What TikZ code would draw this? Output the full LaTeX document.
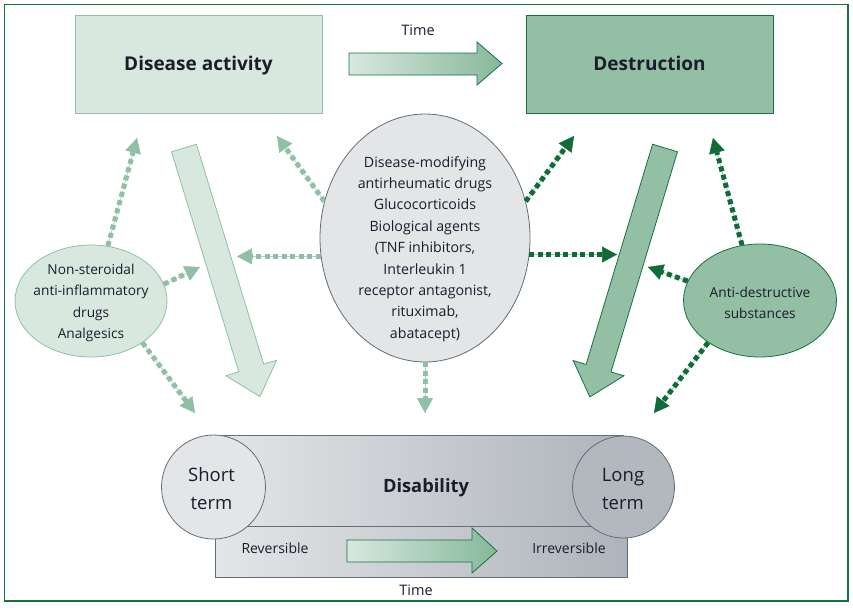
\documentclass[tikz,border=0pt]{standalone}
\usepackage{fontspec}
\setmainfont{Open Sans}
\usetikzlibrary{arrows.meta,shapes.geometric}
\definecolor{lgfill}{HTML}{D8E8DF}
\definecolor{lgline}{HTML}{8FBFA5}
\definecolor{mgfill}{HTML}{93BFA5}
\definecolor{dgreen}{HTML}{17713F}
\definecolor{dotdark}{HTML}{0F6B38}
\definecolor{gfill}{HTML}{E4E5E7}
\definecolor{gline}{HTML}{5F6F7B}
\definecolor{gdark}{HTML}{AEB4BB}
\definecolor{txt}{HTML}{1C1C2C}
\definecolor{arrend}{HTML}{86B89B}
\newcommand\blockarr[5]{%
\begin{scope}[shift={#1}, rotate=#2]
\filldraw[fill=#4, draw=#5, line width=0.8pt] (0,-13) -- ({#3-30},-13) -- ({#3-30},-26.5) -- (#3,0) -- ({#3-30},26.5) -- ({#3-30},13) -- (0,13) -- cycle;
\end{scope}}
\tikzset{
  txtnode/.style={text=txt, align=center, inner sep=0pt, font=\fontsize{13.7}{21.4}\selectfont},
  bigbox/.style={minimum width=247pt, minimum height=98pt, line width=0.9pt, inner sep=0pt, text=txt, text height=13.6pt, text depth=0pt, font=\fontsize{19}{22}\selectfont\bfseries},
  ldots/.style={draw=lgline, line width=5pt, dash pattern=on 5pt off 3.5pt,
     preaction={draw=lgline!70, line width=0.7pt, solid, -},
     -{Triangle[length=15pt,width=16pt,line width=0.5pt]}},
  ddots/.style={ldots, draw=dotdark, preaction={draw=lgline!80, line width=0.7pt, solid, -}},
  timearrow/.style={left color=lgfill, right color=arrend, draw=dgreen, line width=0.8pt},
  disbar/.style={left color=gfill, right color=gdark, draw=gline, line width=0.8pt},
  termcircle/.style={circle, draw=gline, line width=0.8pt, inner sep=0pt, text=txt, align=center, font=\fontsize{18.5}{28}\selectfont},
}
\begin{document}
\begin{tikzpicture}[x=1pt,y=-1pt]
\useasboundingbox (0,0) rectangle (853,611);
\draw[dgreen, line width=1.2pt] (4.5,4.5) rectangle (848,601);

% top boxes
\node[bigbox, fill=lgfill, draw=lgline] (act) at (198.5,64) {Disease activity};
\node[bigbox, fill=mgfill, draw=dgreen] (des) at (649.5,64) {Destruction};
\node[txtnode, font=\fontsize{14.5}{20}\selectfont] (time1) at (418,30) {Time};
\shadedraw[timearrow] (349,53) -- (477,53) -- (477,42) -- (502,63.5) -- (477,85) -- (477,75) -- (349,75) -- cycle;

% big block arrows
\blockarr{(184,148)}{-73.0}{260}{lgfill}{lgline}
\blockarr{(665,148)}{-106.8}{260}{mgfill}{dgreen}

% bottom disability
\shadedraw[disbar] (215,526) rectangle (627,577);
\shadedraw[disbar] (213,435) rectangle (623,526);
\node[termcircle, fill=gfill, minimum size=104pt] (st) at (213.5,487) {};
\node[termcircle, fill=gdark!95!white, minimum size=102pt] (lt) at (623.5,487) {};
\node[text=txt, align=center, inner sep=0pt, font=\fontsize{18.5}{28}\selectfont] (sttext) at (211.5,489) {Short\\term};
\node[text=txt, align=center, inner sep=0pt, font=\fontsize{18.5}{28}\selectfont] (lttext) at (623,489) {Long\\term};
\node[text=txt, font=\fontsize{18.3}{22}\selectfont\bfseries] (dis) at (426,488) {Disability};
\node[txtnode, font=\fontsize{14}{20}\selectfont] (rev) at (275,548) {Reversible};
\node[txtnode, font=\fontsize{14}{20}\selectfont] (irr) at (569,548) {Irreversible};
\shadedraw[timearrow] (347,540) -- (472,540) -- (472,528) -- (497,551) -- (472,573) -- (472,562) -- (347,562) -- cycle;
\node[txtnode, font=\fontsize{14.5}{20}\selectfont] (time2) at (416,590) {Time};

% ellipses
\node[ellipse, draw=gline, line width=0.8pt, fill=gfill, minimum width=210pt, minimum height=248pt, inner sep=0pt] (dm) at (425,238) {};
\node[txtnode, font=\fontsize{14.2}{21.4}\selectfont] (dmtext) at (425,249) {Disease-modifying\\antirheumatic drugs\\Glucocorticoids\\Biological agents\\(TNF inhibitors,\\Interleukin 1\\receptor antagonist,\\rituximab,\\abatacept)};
\node[ellipse, draw=lgline, line width=0.8pt, fill=lgfill, minimum width=152pt, minimum height=112pt, inner sep=0pt] (ns) at (91,301) {};
\node[txtnode] (nstext) at (91,303) {Non-steroidal\\anti-inflammatory\\drugs\\Analgesics};
\node[ellipse, draw=dgreen, line width=0.8pt, fill=mgfill, minimum width=153pt, minimum height=113pt, inner sep=0pt] (ad) at (760,300.5) {};
\node[txtnode] (adtext) at (760,303) {Anti-destructive\\substances};

% tips
\coordinate (ta1) at (137,138);
\coordinate (ta2) at (200,267);
\coordinate (ta3) at (195,413);
\coordinate (tb1) at (277,136);
\coordinate (tb2) at (237,258);
\coordinate (tb3) at (425,413);
\coordinate (tc1) at (574,136);
\coordinate (tc2) at (617,258);
\coordinate (td1) at (648,267);
\coordinate (td2) at (713,138);
\coordinate (td3) at (654,413);

% dotted arrows
\draw[ldots] (ns.73) -- (ta1);
\draw[ldots] (ns.13) -- (ta2);
\draw[ldots] (ns.-39.5) -- (ta3);
\draw[ldots] (dm.160) -- (tb1);
\draw[ldots] (dm.190.9) -- (tb2 |- dm.190.9);
\draw[ldots] (dm.south) -- (tb3);
\draw[ddots] (dm.20.8) -- (tc1);
\draw[ddots] (dm.-9.1) -- (tc2 |- dm.-9.1);
\draw[ddots] (ad.165.8) -- (td1);
\draw[ddots] (ad.108) -- (td2);
\draw[ddots] (ad.219.3) -- (td3);
\end{tikzpicture}
\end{document}
